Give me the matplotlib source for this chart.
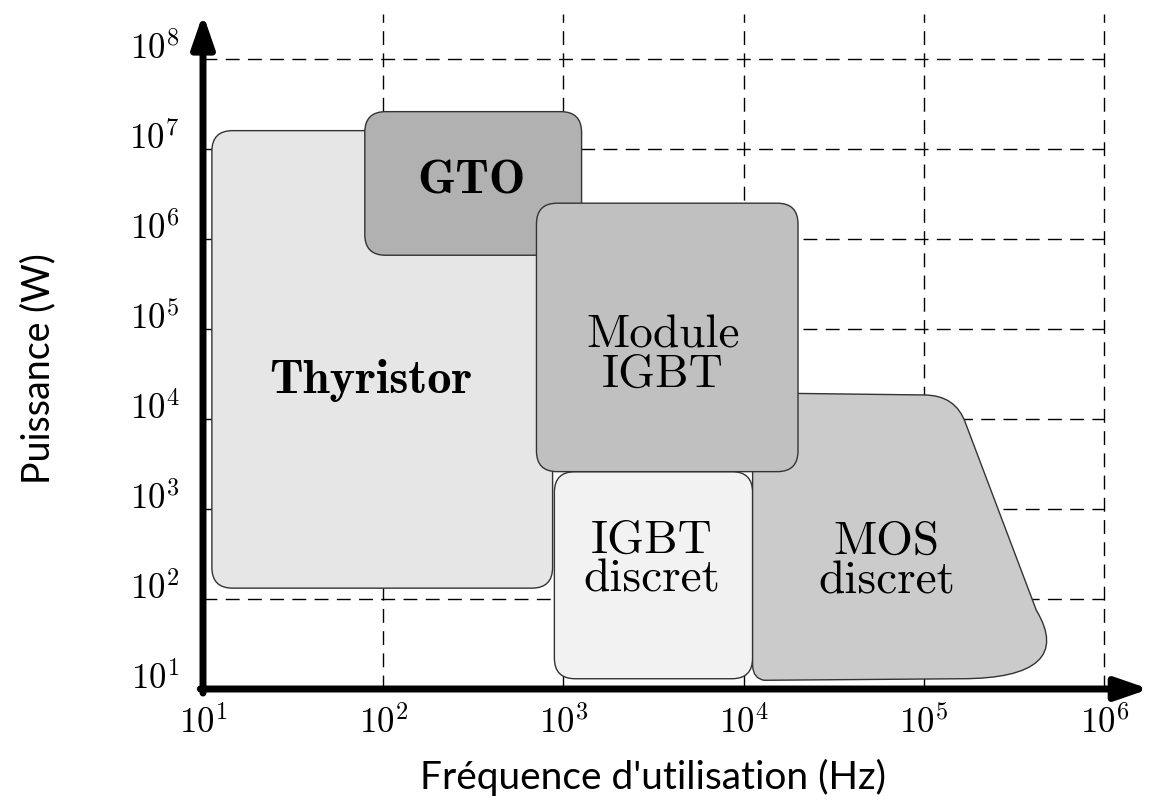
import numpy as np
import matplotlib
matplotlib.use('Agg')
import matplotlib.pyplot as plt
from matplotlib.patches import FancyBboxPatch, PathPatch
from matplotlib.path import Path

plt.rcParams['mathtext.fontset'] = 'cm'

# Domains: frequency (Hz) and power (W) limits of each component family
box_names = ['Thyristor', 'GTO', 'IGBT\ndiscret', 'Module\nIGBT']
box_fmin = [11.2, 79, 890, 708]
box_fmax = [870, 1260, 1.12e4, 2.0e4]
box_pmin = [132, 6.6e5, 13, 2.6e3]
box_pmax = [1.6e7, 2.6e7, 2.6e3, 2.5e6]
box_colors = ['#e6e6e6', '#b1b1b1', '#f2f2f2', '#c0c0c0']
box_bold = [True, True, False, False]
# label anchor (Hz, W)
box_lab_f = [85, 310, 3100, 3550]
box_lab_p = [2.7e4, 4.4e6, 270, 5.1e4]

# MOS discret outline (Hz, W)
mos_f = [1.12e4, 1.12e4, 1.0e5, 1.5e5, 1.7e5, 4.2e5, 5.9e5, 4.3e5, 1.6e5, 1.3e4, 1.13e4, 1.12e4]
mos_p = [18, 1.95e4, 1.85e4, 1.85e4, 9.0e3, 75, 24, 13, 13, 12.5, 13, 18]
mos_codes = [Path.MOVETO, Path.LINETO, Path.LINETO, Path.CURVE3, Path.CURVE3,
             Path.LINETO, Path.CURVE4, Path.CURVE4, Path.CURVE4, Path.LINETO,
             Path.CURVE3, Path.CURVE3]
mos_lab = (6.2e4, 260)

xticks = [1, 2, 3, 4, 5, 6]
yticks = [1, 2, 3, 4, 5, 6, 7, 8]

fig = plt.figure(figsize=(11.51, 8.07), dpi=100)
ax = fig.add_axes([203/1151, 118/807, 946.3/1151, 675/807])
ax.set_xlim(1, 6.25)
ax.set_ylim(1, 8.5)
for s in ax.spines.values():
    s.set_visible(False)

# dashed grid
dash = (0, (10, 6))
for y in yticks[1:]:
    ax.plot([1, 6], [y, y], color='black', lw=1.0, ls=dash, zorder=1)
for x in xticks[1:]:
    ax.plot([x, x], [1, 8.5], color='black', lw=1.0, ls=dash, zorder=1, clip_on=False)

# rounded boxes (log space: 1 decade x = 180 px, 1 decade y = 90 px)
aspect = 180.25 / 90.0
r = 0.115
for i in range(len(box_names)):
    x0, x1 = np.log10(box_fmin[i]), np.log10(box_fmax[i])
    y0, y1 = np.log10(box_pmin[i]), np.log10(box_pmax[i])
    p = FancyBboxPatch((x0, y0), x1 - x0, y1 - y0,
                       boxstyle='round,pad=0,rounding_size=%f' % r,
                       mutation_aspect=aspect, fc=box_colors[i], ec='#333333',
                       lw=1.0, zorder=2 + i * 0.1)
    if box_names[i] == 'Module\nIGBT':
        p.set_zorder(3)
    ax.add_patch(p)
    fam = 'cmb10' if box_bold[i] else 'cmr10'
    ax.text(np.log10(box_lab_f[i]), np.log10(box_lab_p[i]), box_names[i],
            family=fam, fontsize=35 if box_bold[i] else 34, ha='center', va='center',
            linespacing=0.92, zorder=4)

mos_path = Path(np.column_stack([np.log10(mos_f), np.log10(mos_p)]), mos_codes)
ax.add_patch(PathPatch(mos_path, fc='#cbcbcb', ec='#333333', lw=1.0, zorder=2.5))
ax.text(np.log10(mos_lab[0]), np.log10(mos_lab[1]), 'MOS\ndiscret', family='cmr10',
        fontsize=34, ha='center', va='center', linespacing=0.92, zorder=4)

# axes with arrows
arrow = dict(arrowstyle='-|>,head_length=1.1,head_width=0.38',
             lw=5, color='black', shrinkA=0, shrinkB=0, mutation_scale=18)
ax.annotate('', xy=(6.25, 1), xytext=(0.985, 1), xycoords='data',
            arrowprops=arrow, annotation_clip=False, zorder=6)
ax.annotate('', xy=(1, 8.5), xytext=(1, 0.955), xycoords='data',
            arrowprops=arrow, annotation_clip=False, zorder=6)

ax.set_xticks(xticks)
ax.set_xticklabels([r'$10^{%d}$' % t for t in xticks])
ax.set_yticks(yticks)
ax.set_yticklabels([r'$10^{%d}$' % t for t in yticks])
ax.tick_params(length=0, labelsize=25)
ax.tick_params(axis='x', pad=12)
ax.tick_params(axis='y', pad=17)
for lab in ax.get_yticklabels():
    lab.set_va('baseline')

ax.set_xlabel("Fréquence d'utilisation (Hz)", family='Lato', fontsize=28)
ax.xaxis.set_label_coords(0.4755, -0.103)
ax.set_ylabel('Puissance (W)', family='Lato', fontsize=27)
ax.yaxis.set_label_coords(-0.155, 0.474)

plt.savefig('out.png', dpi=100)
